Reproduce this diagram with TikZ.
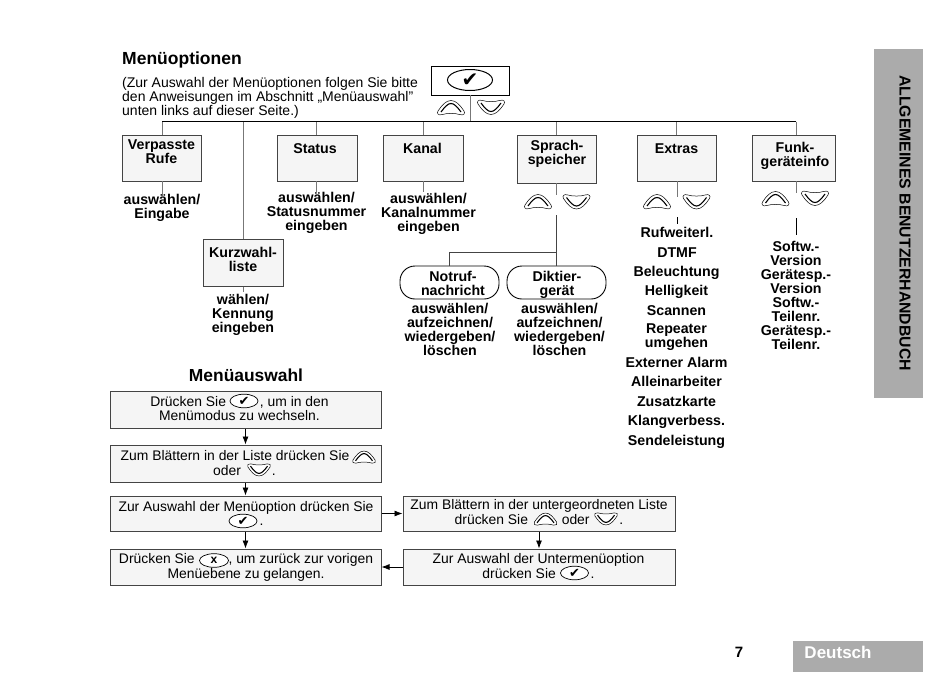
\documentclass[tikz,border=0pt]{standalone}
\usepackage{fontspec}
\setmainfont{Liberation Sans}
\newfontfamily\symfont{DejaVu Sans}
\definecolor{boxfill}{HTML}{F5F5F5}
\definecolor{edgegray}{HTML}{444444}
\definecolor{linegray}{HTML}{777777}
\definecolor{sidegray}{HTML}{ABABAB}
\usetikzlibrary{arrows.meta}
\tikzset{
  mbox/.style={draw=edgegray,fill=boxfill,line width=1pt,inner sep=0pt},
  pill/.style={draw=black,fill=white,line width=0.9pt,rounded corners=15pt,inner sep=0pt},
  lbl/.style={inner sep=0pt,align=center,font={\fontsize{14.2}{14}\selectfont\bfseries}},
  lblb/.style={lbl,anchor=base},
  flowtxt/.style={inner sep=0pt,align=center,font={\fontsize{13.9}{14.4}\selectfont}},
  drop/.style={draw=linegray,line width=0.8pt},
  bus/.style={draw=black,line width=0.9pt},
  flow/.style={draw=black,line width=0.8pt,-{Latex[length=8pt,width=6pt]}},
  pics/upkey/.style={code={
    \draw[line width=0.5pt,fill=white] (-13,3.5) .. controls (-9,-2.5) and (-5,-7) .. (0,-7) .. controls (5,-7) and (9,-2.5) .. (13,3.5) .. controls (14.5,6) and (12.5,8) .. (9.5,7.2) .. controls (4,5.5) and (-4,5.5) .. (-9.5,7.2) .. controls (-12.5,8) and (-14.5,6) .. (-13,3.5) -- cycle;
    \draw[line width=1.1pt] (-10,4.5) .. controls (-6,-1) and (-3,-4) .. (0,-4) .. controls (3,-4) and (6,-1) .. (10,4.5);
  }},
  pics/downkey/.style={code={
    \draw[line width=0.5pt,fill=white] (-13,-3.5) .. controls (-9,2.5) and (-5,7) .. (0,7) .. controls (5,7) and (9,2.5) .. (13,-3.5) .. controls (14.5,-6) and (12.5,-8) .. (9.5,-7.2) .. controls (4,-5.5) and (-4,-5.5) .. (-9.5,-7.2) .. controls (-12.5,-8) and (-14.5,-6) .. (-13,-3.5) -- cycle;
    \draw[line width=1.1pt] (-10,-4.5) .. controls (-6,1) and (-3,4) .. (0,4) .. controls (3,4) and (6,1) .. (10,-4.5);
  }},
  pics/okkey/.style={code={
    \draw[line width=0.7pt,fill=white] (0,0) ellipse (14 and 6.8);
    \node[inner sep=0pt,font={\fontsize{13}{13}\selectfont\symfont}] {✔};
  }},
  pics/xkey/.style={code={
    \draw[line width=0.7pt,fill=white] (0,0) ellipse (14.5 and 6.8);
    \node[inner sep=0pt,font={\fontsize{12}{12}\selectfont\bfseries}] {x};
  }}
}
\begin{document}
\begin{tikzpicture}[x=1pt,y=-1pt]
\useasboundingbox (0,0) rectangle (950,672);
% side tabs
\node[fill=sidegray,minimum width=49pt,minimum height=349pt,inner sep=0pt] (side) at (898.5,223.5) {};
\node[rotate=-90,inner sep=0pt,font={\fontsize{15.8}{16}\selectfont\bfseries}] (sidet) at (905,223) {ALLGEMEINES BENUTZERHANDBUCH};
\node[fill=sidegray,minimum width=130pt,minimum height=31pt,inner sep=0pt] (lang) at (858,656.5) {};
\node[inner sep=0pt,text=white,font={\fontsize{17}{17}\selectfont\bfseries}] (langt) at (838,652.5) {Deutsch};
\node[inner sep=0pt,font={\fontsize{15}{15}\selectfont\bfseries}] (pg) at (739,652.5) {7};
% titles
\node[anchor=west,inner sep=0pt,font={\fontsize{17.5}{17}\selectfont\bfseries}] (t1) at (122,60) {Menüoptionen};
\node[inner sep=0pt,font={\fontsize{17.4}{17}\selectfont\bfseries}] (t2) at (246,375.5) {Menüauswahl};
\node[anchor=north west,inner sep=0pt,align=left,font={\fontsize{14}{14}\selectfont}] (intro) at (122,77) {(Zur Auswahl der Menüoptionen folgen Sie bitte\\den Anweisungen im Abschnitt „Menüauswahl"\\unten links auf dieser Seite.)};
% top
\node[draw=black,fill=white,line width=0.9pt,minimum width=78pt,minimum height=29pt,inner sep=0pt] (top) at (470,80.5) {};
\coordinate (busy) at (470,121.5);
\draw[drop] (top.south) -- (busy);
\draw[line width=1pt,fill=white] (470,80) ellipse (22.5 and 10.5);
\node[inner sep=0pt,font={\fontsize{20}{20}\selectfont\symfont}] (topchk) at (470,80) {✔};
\pic at (451,107.5) {upkey};
\pic at (491,107.5) {downkey};
% boxes
\node[mbox,minimum width=79pt,minimum height=46pt] (verp) at (161.5,158) {};
\node[mbox,minimum width=80pt,minimum height=47pt] (kurz) at (243,262.5) {};
\node[mbox,minimum width=80pt,minimum height=46pt] (stat) at (317,158) {};
\node[mbox,minimum width=80pt,minimum height=46pt] (kanal) at (423,158) {};
\node[mbox,minimum width=79pt,minimum height=48pt] (spr) at (556.5,159) {};
\node[mbox,minimum width=79pt,minimum height=46pt] (ext) at (676.5,158) {};
\node[mbox,minimum width=83pt,minimum height=46pt] (funk) at (793.5,158) {};
\node[lbl] (verpt) at (161.5,152) {Verpasste\\Rufe};
\node[lbl] (kurzt) at (243,259.5) {Kurzwahl-\\liste};
\node[lbl] (statt) at (315,148.5) {Status};
\node[lbl] (kanalt) at (422.5,148.5) {Kanal};
\node[lbl] (sprt) at (557,154) {Sprach-\\speicher};
\node[lbl] (extt) at (676.5,149) {Extras};
\node[lbl] (funkt) at (795,156) {Funk-\\geräteinfo};
% bus
\coordinate (b1) at (162,121.5);
\coordinate (b2) at (243,121.5);
\coordinate (b3) at (316.5,121.5);
\coordinate (b4) at (423,121.5);
\coordinate (b5) at (556,121.5);
\coordinate (b6) at (676,121.5);
\coordinate (b7) at (796,121.5);
\draw[drop] (b1) -- (162,135);
\draw[drop] (b2) -- (kurz.north);
\draw[drop] (b3) -- (316.5,135);
\draw[drop] (b4) -- (kanal.north);
\draw[drop] (b5) -- (556,135);
\draw[drop] (b6) -- (676,135);
\draw[drop] (b7) -- (796,135);
\draw[bus] (b1) -- (b7);
% stubs under boxes
\draw[drop] (162,181) -- (162,196);
\draw[drop] (kurz.south) -- (243,292);
\draw[drop] (316.5,181) -- (316.5,192);
\draw[drop] (423,181) -- (423,192);
\draw[drop] (556,183) -- (556,195);
\draw[drop] (677,181) -- (677,197);
\draw[drop] (796,181) -- (796,193);
% key pairs
\pic at (538,201.5) {upkey};
\pic at (576.5,202) {downkey};
\pic at (657,201.5) {upkey};
\pic at (696.5,202) {downkey};
\pic at (775.5,198.5) {upkey};
\pic at (815,198.5) {downkey};
\draw[line width=0.8pt] (677,217) -- (677,224);
\draw[line width=0.8pt] (796,218) -- (796,235);
% voice sub-tree
\node[pill,minimum width=99pt,minimum height=33pt] (not) at (449.5,282.5) {};
\node[pill,minimum width=99pt,minimum height=33pt] (dik) at (556.5,282.5) {};
\node[lbl] (nott) at (453,283) {Notruf-\\nachricht};
\node[lbl] (dikt) at (557,284.5) {Diktier-\\gerät};
\coordinate (vtop) at (556.5,215);
\coordinate (vmid) at (556.5,252);
\draw[line width=0.8pt,draw=edgegray] (vtop) -- (dik.north);
\draw[line width=0.8pt,draw=edgegray] (vmid) -| (not.north);
% labels
\node[lbl] (l1) at (162,207.5) {auswählen/\\Eingabe};
\node[lbl] (l2) at (243,314.5) {wählen/\\Kennung\\eingeben};
\node[lbl] (l3) at (316.5,213) {auswählen/\\Statusnummer\\eingeben};
\node[lbl] (l4) at (428.5,214) {auswählen/\\Kanalnummer\\eingeben};
\node[lbl] (l5) at (450,329) {auswählen/\\aufzeichnen/\\wiedergeben/\\löschen};
\node[lbl] (l6) at (559.5,329) {auswählen/\\aufzeichnen/\\wiedergeben/\\löschen};
\node[lblb] (e1) at (677,237) {Rufweiterl.};
\node[lblb] (e2) at (677,257) {DTMF};
\node[lblb] (e3) at (676.5,276) {Beleuchtung};
\node[lblb] (e4) at (676.5,295) {Helligkeit};
\node[lblb] (e5) at (676.5,315) {Scannen};
\node[lbl] (e6) at (676.5,337) {Repeater\\umgehen};
\node[lblb] (e7) at (676.5,367) {Externer Alarm};
\node[lblb] (e8) at (676.5,386) {Alleinarbeiter};
\node[lblb] (e9) at (676.5,406) {Zusatzkarte};
\node[lblb] (e10) at (676.5,425) {Klangverbess.};
\node[lblb] (e11) at (676.5,445) {Sendeleistung};
\node[lbl] (f1) at (796,295) {Softw.-\\Version\\Gerätesp.-\\Version\\Softw.-\\Teilenr.\\Gerätesp.-\\Teilenr.};
% flow
\node[mbox,minimum width=271pt,minimum height=37pt] (a1) at (245.5,409.5) {};
\node[mbox,minimum width=271pt,minimum height=37pt] (a2) at (245.5,463.5) {};
\node[mbox,minimum width=271pt,minimum height=35pt] (a3) at (245.5,513.5) {};
\node[mbox,minimum width=271pt,minimum height=36pt] (a4) at (245.5,567) {};
\node[mbox,minimum width=272pt,minimum height=35pt] (b1x) at (539,513.5) {};
\node[mbox,minimum width=272pt,minimum height=36pt] (b2x) at (539,567) {};
\node[flowtxt] (a1t) at (239.5,408.5) {Drücken Sie \hspace{30pt}, um in den\\Menümodus zu wechseln.};
\node[flowtxt] (a2t) at (244.5,463) {Zum Blättern in der Liste drücken Sie\hspace{19pt}\mbox{}\\oder \hspace{27pt}.};
\node[flowtxt] (a3t) at (246,513.5) {Zur Auswahl der Menüoption drücken Sie\\\hspace{31pt}.};
\node[flowtxt] (a4t) at (246,567.5) {Drücken Sie \hspace{30pt}, um zurück zur vorigen\\Menüebene zu gelangen.};
\node[flowtxt] (b1t) at (539,512) {Zum Blättern in der untergeordneten Liste\\drücken Sie \hspace{26pt} oder \hspace{26pt}.};
\node[flowtxt] (b2t) at (538.5,566) {Zur Auswahl der Untermenüoption\\drücken Sie \hspace{31pt}.};
\pic at (244,401) {okkey};
\pic[scale=0.85] at (364,457) {upkey};
\pic[scale=0.85] at (259,470) {downkey};
\pic at (243,521) {okkey};
\pic at (214,560.5) {xkey};
\pic[scale=0.85] at (545.5,519) {upkey};
\pic[scale=0.85] at (606,519) {downkey};
\pic at (574.5,573) {okkey};
\draw[flow] (a1) -- (a2);
\draw[flow] (a2) -- (a3);
\draw[flow] (a3) -- (a4);
\draw[flow] (a3) -- (b1x);
\draw[flow] (b1x) -- (b2x);
\draw[flow] (b2x) -- (a4);
\end{tikzpicture}
\end{document}
